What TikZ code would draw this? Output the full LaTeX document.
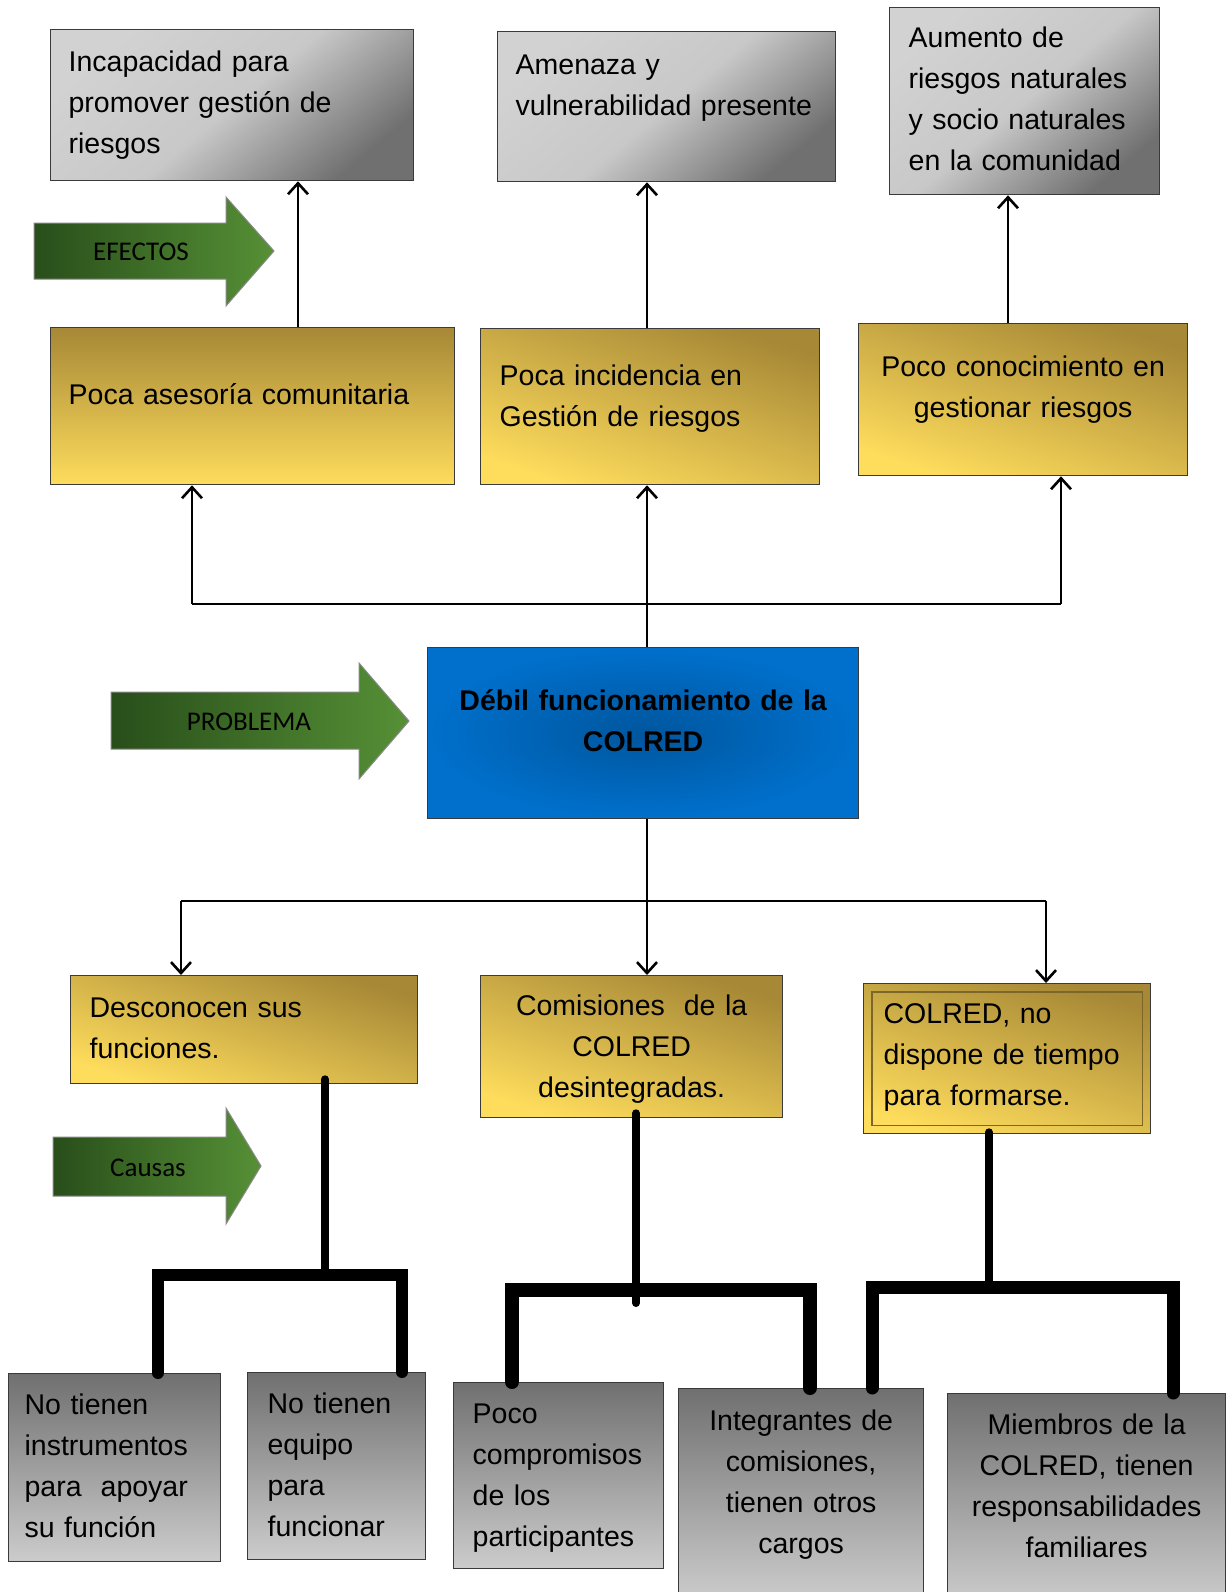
\documentclass[tikz,border=0pt]{standalone}
\usepackage{fontspec}
\setmainfont{Liberation Sans}
\newfontfamily\bannerfont{Carlito}
\usetikzlibrary{arrows.meta}

\definecolor{gold}{RGB}{166,136,54}
\definecolor{lightgold}{RGB}{254,220,92}
\definecolor{palegray}{RGB}{210,210,210}
\definecolor{darkgray}{RGB}{112,112,112}
\definecolor{softgray}{RGB}{204,204,204}
\definecolor{midblue}{RGB}{0,112,204}
\definecolor{deepblue}{RGB}{0,86,158}
\definecolor{leafgreen}{RGB}{86,144,54}
\definecolor{forestgreen}{RGB}{40,78,26}
\definecolor{edgegray}{RGB}{58,58,58}

\begin{document}
\begin{tikzpicture}[x=1pt, y=-1pt,
        every node/.style={anchor=north west, draw=edgegray, line width=1.3pt, inner ysep=0pt, inner xsep=18pt,
            font=\fontsize{28.5}{41}\selectfont, align=left},
        effect/.style={top color=palegray, bottom color=darkgray, middle color=palegray!90!darkgray, shading angle=40},
        cause/.style={top color=gold, bottom color=lightgold, shading angle=-18},
        root/.style={top color=darkgray, bottom color=softgray},
        core/.style={inner color=deepblue, outer color=midblue, font=\fontsize{28.5}{41}\selectfont\bfseries, align=center},
        banner/.style={draw=none, anchor=center, inner sep=0pt, font=\bannerfont\fontsize{27}{30}\selectfont, text=black},
        bannerbody/.style={left color=forestgreen, right color=leafgreen, draw=edgegray!60, line width=1pt},
        conn/.style={line width=2.6pt, -{Straight Barb[length=11pt, width=20pt]}},
        stem/.style={line width=8pt, line cap=round},
        bar/.style={line width=12pt, line cap=round, line join=miter}]
    \useasboundingbox (0,0) rectangle (1231,1592);

    % efectos
    \node[effect, text width=327pt, text height=42pt, text depth=109pt] (e1) at (50,29) {Incapacidad para\\promover gestión de\\riesgos};
    \node[effect, text width=302pt, text height=43pt, text depth=107pt] (e2) at (497,31) {Amenaza y\\vulnerabilidad presente};
    \node[effect, inner xsep=19pt, text width=232pt, text height=40pt, text depth=147pt] (e3) at (889,7) {Aumento de\\riesgos naturales\\y socio naturales\\en la comunidad};

    \node[cause, shading angle=0, text width=368pt, text height=77pt, text depth=80pt] (y1) at (50,327) {Poca asesoría comunitaria};
    \node[cause, inner xsep=19pt, text width=301pt, text height=57pt, text depth=99pt] (y2) at (480,328) {Poca incidencia en\\Gestión de riesgos};
    \node[cause, align=center, text width=293pt, text height=53pt, text depth=99pt] (y3) at (858,323) {Poco conocimiento en\\gestionar riesgos};

    % problema
    \node[core, text width=395pt, text height=63pt, text depth=108pt] (core) at (427,647) {Débil funcionamiento de la\\COLRED};

    % causas
    \node[cause, inner xsep=19pt, text width=309pt, text height=42pt, text depth=66pt] (c1) at (70,975) {Desconocen sus\\funciones.};
    \node[cause, align=center, text width=266pt, text height=40pt, text depth=102pt] (c2) at (480,975) {Comisiones\ \ de la\\COLRED\\desintegradas.};
    \node[cause, inner xsep=20pt, text width=247pt, text height=40pt, text depth=110pt] (c3) at (863,983) {COLRED, no\\dispone de tiempo\\para formarse.};
    \draw[gold!75!black, line width=1.2pt] ([shift={(9,9)}]c3.north west) rectangle ([shift={(-9,-9)}]c3.south east);

    \node[root, inner xsep=16pt, text width=180pt, text height=41pt, text depth=147pt] (b1) at (8,1373) {No tienen\\instrumentos\\para\ \ apoyar\\su función};
    \node[root, inner xsep=20pt, text width=138pt, text height=41pt, text depth=146pt] (b2) at (247,1372) {No tienen\\equipo\\para\\funcionar};
    \node[root, inner xsep=19pt, text width=172pt, text height=41pt, text depth=145pt] (b3) at (453,1382) {Poco\\compromisos\\de los\\participantes};
    \node[root, align=center, text width=209pt, text height=42pt, text depth=170pt] (b4) at (678,1388) {Integrantes de\\comisiones,\\tienen otros\\cargos};
    \node[root, align=center, text width=242pt, text height=41pt, text depth=170pt] (b5) at (947,1393) {Miembros de la\\COLRED, tienen\\responsabilidades\\familiares};

    % flechas verdes
    \shade[bannerbody] (34,223) -- (226,223) -- (226,197) -- (274,251) -- (226,306) -- (226,279) -- (34,279) -- cycle;
    \node[banner] (efectos) at (141,252) {EFECTOS};
    \shade[bannerbody] (111,692) -- (359,692) -- (359,663) -- (409,721) -- (359,779) -- (359,749) -- (111,749) -- cycle;
    \node[banner] (problema) at (249,722) {PROBLEMA};
    \shade[bannerbody] (53,1137) -- (226,1137) -- (226,1108) -- (261,1166) -- (226,1224) -- (226,1196) -- (53,1196) -- cycle;
    \node[banner] (causas) at (148,1168) {Causas};

    % conectores de arriba
    \coordinate (hub) at (647,604);
    \coordinate (tl) at (192,604);
    \coordinate (tr) at (1061,604);
    \draw[line width=2.6pt] (core.north -| hub) -- (hub) (tl) -- (tr);
    \draw[conn] (hub) -- (hub |- y2.south);
    \draw[conn] (tl) -- (tl |- y1.south);
    \draw[conn] (tr) -- (tr |- y3.south);
    \path[conn] (y1.north -| 298,0) edge (e1.south -| 298,0)
        (y2.north -| hub) edge (e2.south -| hub)
        (y3.north -| 1008,0) edge (e3.south -| 1008,0);

    % conectores de abajo
    \coordinate (low) at (647,901);
    \coordinate (bl) at (181,901);
    \coordinate (br) at (1046,901);
    \draw[line width=2.6pt] (core.south -| low) -- (low) (bl) -- (br);
    \draw[conn] (low) -- (low |- c2.north);
    \draw[conn] (bl) -- (bl |- c1.north);
    \draw[conn] (br) -- (br |- c3.north);

    % lineas gruesas
    \coordinate (j1) at (325,1275);
    \coordinate (j1l) at (158,1275);
    \coordinate (j1r) at (402,1275);
    \draw[stem] ([yshift=5pt]c1.south -| j1) -- (j1);
    \draw[bar] (b1.north -| j1l) -- (j1l) -- (j1r) -- (b2.north -| j1r);

    \coordinate (j2) at (636,1303);
    \coordinate (j2l) at (512,1290);
    \coordinate (j2r) at (810,1290);
    \draw[stem] ([yshift=5pt]c2.south -| j2) -- (j2);
    \draw[bar, line width=14pt] (b3.north -| j2l) -- (j2l) -- (j2r) -- (b4.north -| j2r);

    \coordinate (j3) at (989,1281);
    \coordinate (j3l) at (872,1287);
    \coordinate (j3r) at (1173,1287);
    \draw[stem] ([yshift=2pt]c3.south -| j3) -- (j3);
    \draw[bar, line width=13pt] (b4.north -| j3l) -- (j3l) -- (j3r) -- (b5.north -| j3r);
\end{tikzpicture}
\end{document}
